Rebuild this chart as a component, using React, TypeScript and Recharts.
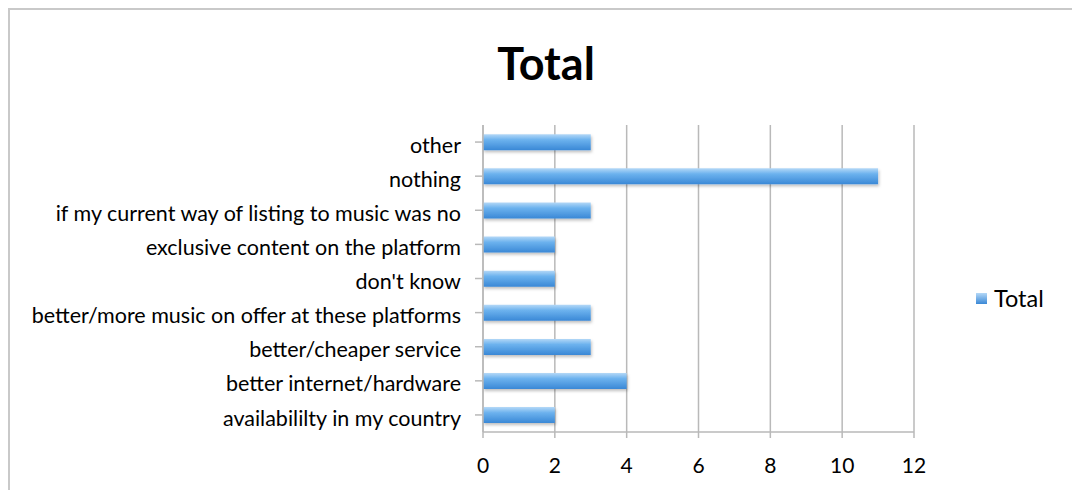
import React from 'react';
import { BarChart, Bar, XAxis, YAxis, CartesianGrid } from 'recharts';

// categories listed top to bottom, as they appear in the chart
const categories = [
    'other',
    'nothing',
    'if my current way of listing to music was no',
    'exclusive content on the platform',
    "don't know",
    'better/more music on offer at these platforms',
    'better/cheaper service',
    'better internet/hardware',
    'availabililty in my country',
];
const totals = [3, 11, 3, 2, 2, 3, 3, 4, 2];
const xTicks = [0, 2, 4, 6, 8, 10, 12];

const data = categories.map((name, i) => ({ name, Total: totals[i] }));

const FONT = 'Lato, "Open Sans", sans-serif';

const App = () => {
    return (
        <div
            style={{
                position: 'relative',
                width: 1070,
                height: 480,
                borderLeft: '2px solid #c9c9c9',
                borderTop: '2px solid #c9c9c9',
                background: '#fff',
                fontFamily: FONT,
                overflow: 'hidden',
            }}
        >
            <div
                style={{
                    position: 'absolute',
                    left: 0,
                    width: 1072,
                    top: 27,
                    textAlign: 'center',
                    fontSize: 45,
                    lineHeight: '52px',
                    fontWeight: 700,
                    color: '#000',
                }}
            >
                Total
            </div>
            <BarChart
                width={1070}
                height={480}
                data={data}
                layout="vertical"
                margin={{ top: 115, right: 166, bottom: 0, left: 0 }}
                barCategoryGap="27%"
            >
                <defs>
                    <linearGradient id="barFill" x1="0" y1="0" x2="0" y2="1">
                        <stop offset="0%" stopColor="#b4d8f7" />
                        <stop offset="35%" stopColor="#6cb2ee" />
                        <stop offset="100%" stopColor="#3a88d6" />
                    </linearGradient>
                    <filter id="barShadow" x="-5%" y="-30%" width="110%" height="180%">
                        <feDropShadow dx="1" dy="2" stdDeviation="1.5" floodColor="#000" floodOpacity="0.25" />
                    </filter>
                </defs>
                <CartesianGrid horizontal={false} vertical stroke="#b9b9b9" strokeWidth={1.5} />
                <XAxis
                    type="number"
                    domain={[0, 12]}
                    ticks={xTicks}
                    interval={0}
                    height={58}
                    stroke="#b9b9b9"
                    strokeWidth={1.5}
                    tickSize={6}
                    tick={{ fill: '#000', fontSize: 21, fontFamily: FONT }}
                    tickMargin={20}
                />
                <YAxis
                    type="category"
                    dataKey="name"
                    width={473}
                    interval={0}
                    stroke="#b9b9b9"
                    strokeWidth={1.5}
                    tickSize={8}
                    tickMargin={14}
                    tick={{ fill: '#000', fontSize: 21.5, fontFamily: FONT, dy: 3 }}
                />
                <Bar
                    dataKey="Total"
                    fill="url(#barFill)"
                    filter="url(#barShadow)"
                    isAnimationActive={false}
                />
            </BarChart>
            <div
                style={{
                    position: 'absolute',
                    left: 966,
                    top: 274,
                    display: 'flex',
                    alignItems: 'center',
                    fontSize: 23.5,
                    color: '#000',
                }}
            >
                <span
                    style={{
                        display: 'inline-block',
                        width: 11,
                        height: 11,
                        marginRight: 7,
                        background: 'linear-gradient(#b4d8f7, #3a88d6)',
                    }}
                />
                Total
            </div>
        </div>
    );
};

export default App;
